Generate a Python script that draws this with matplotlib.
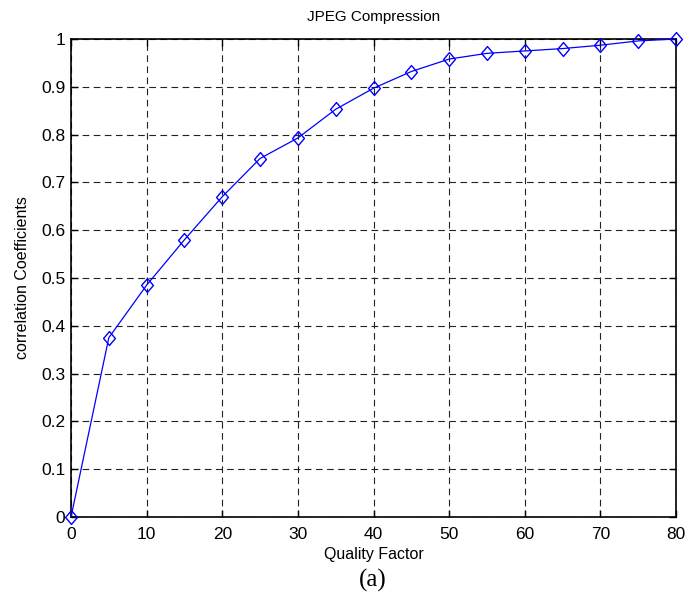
import matplotlib
matplotlib.use("Agg")
import matplotlib.pyplot as plt
from matplotlib.path import Path

quality = [0, 5, 10, 15, 20, 25, 30, 35, 40, 45, 50, 55, 60, 65, 70, 75, 80]
corr = [0.0, 0.375, 0.485, 0.58, 0.67, 0.75, 0.793, 0.853, 0.897, 0.932, 0.958,
        0.970, 0.975, 0.980, 0.987, 0.996, 1.0]
xticks = [0, 10, 20, 30, 40, 50, 60, 70, 80]
yticks = [0, 0.1, 0.2, 0.3, 0.4, 0.5, 0.6, 0.7, 0.8, 0.9, 1]
ytick_labels = ["0", "0.1", "0.2", "0.3", "0.4", "0.5", "0.6", "0.7", "0.8", "0.9", "1"]

plt.rcParams['font.family'] = ['Liberation Sans', 'DejaVu Sans']

diamond = Path([(0, 1), (0.85, 0), (0, -1), (-0.85, 0), (0, 1)],
               [Path.MOVETO, Path.LINETO, Path.LINETO, Path.LINETO, Path.CLOSEPOLY])

fig = plt.figure(figsize=(6.88, 6.03), dpi=100)
ax = fig.add_axes([71/688, 1 - 517/603, (676-71)/688, (517-39)/603])

ax.plot(quality, corr, color='#0000ff', linewidth=0.9, marker=diamond, markersize=10,
        markerfacecolor='none', markeredgecolor='#0000ff', markeredgewidth=1.0,
        clip_on=False, zorder=5)

ax.set_xlim(0, 80)
ax.set_ylim(0, 1)
ax.set_xticks(xticks)
ax.set_xticklabels([str(v) for v in xticks])
ax.set_yticks(yticks)
ax.set_yticklabels(ytick_labels)
ax.tick_params(direction='in', top=True, right=True, length=5, width=1,
               labelsize=12.5, colors='black')
ax.tick_params(axis='x', pad=7)
ax.tick_params(axis='y', pad=4)
ax.grid(True, color='#222222', linestyle=(0, (6, 4)), linewidth=0.8)
for s in ax.spines.values():
    s.set_linewidth(1.2)
    s.set_color('black')

ax.set_title('JPEG Compression', fontsize=11, pad=13)
ax.set_xlabel('Quality Factor', fontsize=11.5, labelpad=4)
ax.set_ylabel('correlation Coefficients', fontsize=11.5, labelpad=8)

fig.text(373/688, 1 - 580/603, '(a)', ha='center', va='center',
         fontsize=18, family=['Liberation Serif', 'DejaVu Serif'])

fig.savefig('out.png', dpi=100, facecolor='white')
